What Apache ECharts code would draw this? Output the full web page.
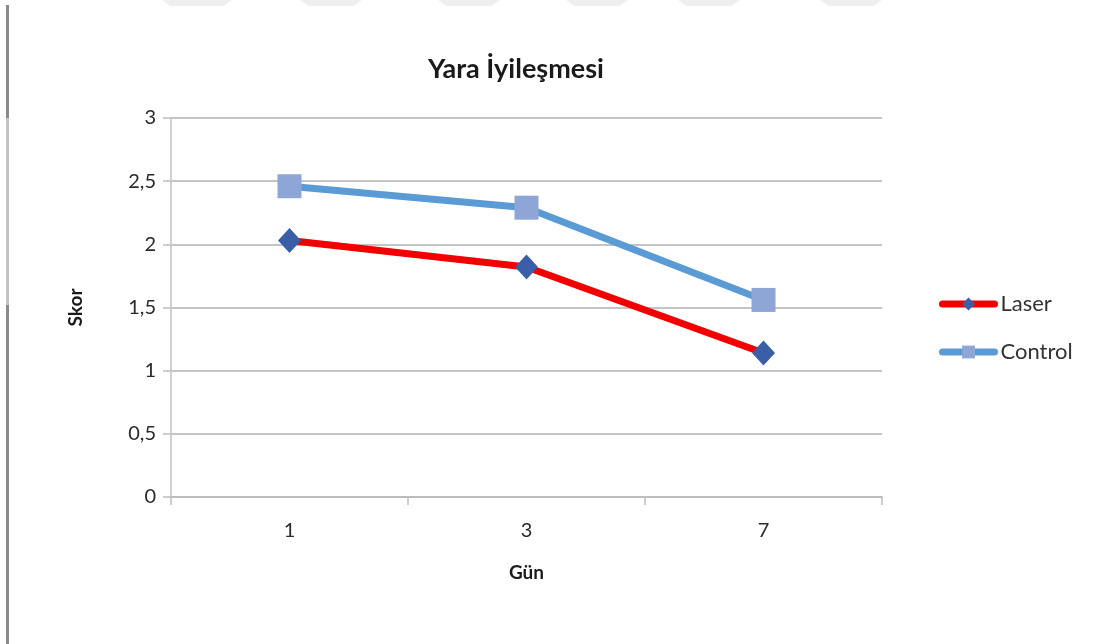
<!DOCTYPE html>
<html>
<head>
<meta charset="utf-8">
<title>Yara İyileşmesi</title>
<script src="https://cdn.jsdelivr.net/npm/echarts@6/dist/echarts.min.js"></script>
<style>
  html, body { margin: 0; padding: 0; background: #ffffff; }
  #chart { width: 1095px; height: 644px; }
</style>
</head>
<body>
<div id="chart"></div>
<script>
// Healing score per day
const days = ['1', '3', '7'];
const laser = [2.03, 1.82, 1.14];
const control = [2.46, 2.29, 1.56];
const yTicks = [0, 0.5, 1, 1.5, 2, 2.5, 3];

const FONT = 'Lato, "Open Sans", sans-serif';
const chart = echarts.init(document.getElementById('chart'));

// faint page-edge shapes along the top and the binding line on the left
const topShapes = [[162, 232], [300, 362], [438, 500], [566, 628], [678, 740], [820, 882]];
const graphics = topShapes.map(([a, b]) => ({
  type: 'polygon',
  shape: { points: [[a, 0], [b, 0], [b - 8, 6], [a + 8, 6]] },
  style: { fill: '#efefef' },
  silent: true
}));
graphics.push(
  { type: 'rect', shape: { x: 6, y: 5, width: 3, height: 113 }, style: { fill: '#8a8a8a' }, silent: true },
  { type: 'rect', shape: { x: 6, y: 118, width: 3, height: 187 }, style: { fill: '#c4c4c4' }, silent: true },
  { type: 'rect', shape: { x: 6, y: 305, width: 3, height: 339 }, style: { fill: '#8a8a8a' }, silent: true }
);

chart.setOption({
  backgroundColor: '#ffffff',
  animation: false,
  textStyle: { fontFamily: FONT },
  title: {
    text: 'Yara İyileşmesi',
    left: 511,
    top: 51,
    textAlign: 'center',
    textStyle: { fontFamily: FONT, fontSize: 27, fontWeight: 'bold', color: '#1a1a1a' }
  },
  graphic: graphics,
  grid: { left: 171, right: 213, top: 118, bottom: 147 },
  legend: {
    orient: 'vertical',
    left: 934,
    top: 288,
    itemGap: 26,
    itemWidth: 52,
    itemHeight: 16,
    lineStyle: { width: 7, cap: 'round' },
    textStyle: { fontFamily: FONT, fontSize: 22, color: '#333333', padding: [0, 0, 0, 1] },
    data: ['Laser', 'Control']
  },
  xAxis: {
    type: 'category',
    data: days,
    boundaryGap: true,
    name: 'Gün',
    nameLocation: 'middle',
    nameGap: 66,
    nameTextStyle: { fontFamily: FONT, fontSize: 19, fontWeight: 'bold', color: '#1a1a1a' },
    axisLine: { lineStyle: { color: '#bdbdbd', width: 2 } },
    axisTick: { show: true, length: 8, lineStyle: { color: '#bdbdbd', width: 1.5 } },
    axisLabel: { fontFamily: FONT, fontSize: 20, color: '#2a2a2a', margin: 24 }
  },
  yAxis: {
    type: 'value',
    min: yTicks[0],
    max: yTicks[yTicks.length - 1],
    interval: 0.5,
    name: 'Skor',
    nameLocation: 'middle',
    nameGap: 86,
    nameRotate: 90,
    nameTextStyle: { fontFamily: FONT, fontSize: 19, fontWeight: 'bold', color: '#1a1a1a' },
    axisLine: { show: true, lineStyle: { color: '#d0d0d0', width: 2 } },
    axisTick: { show: true, length: 8, lineStyle: { color: '#bdbdbd', width: 1.5 } },
    axisLabel: {
      fontFamily: FONT, fontSize: 20, color: '#2a2a2a', margin: 15,
      formatter: v => String(v).replace('.', ',')
    },
    splitLine: { lineStyle: { color: '#c4c4c4', width: 2 } }
  },
  series: [
    {
      name: 'Laser',
      type: 'line',
      data: laser,
      symbol: 'diamond',
      symbolSize: [23, 25],
      lineStyle: { color: '#f20000', width: 7 },
      itemStyle: { color: '#3a5fa6' },
      z: 3
    },
    {
      name: 'Control',
      type: 'line',
      data: control,
      symbol: 'rect',
      symbolSize: 24,
      lineStyle: { color: '#5b9bd5', width: 7 },
      itemStyle: { color: '#8ea6d6' },
      z: 2
    }
  ]
});
</script>
</body>
</html>
